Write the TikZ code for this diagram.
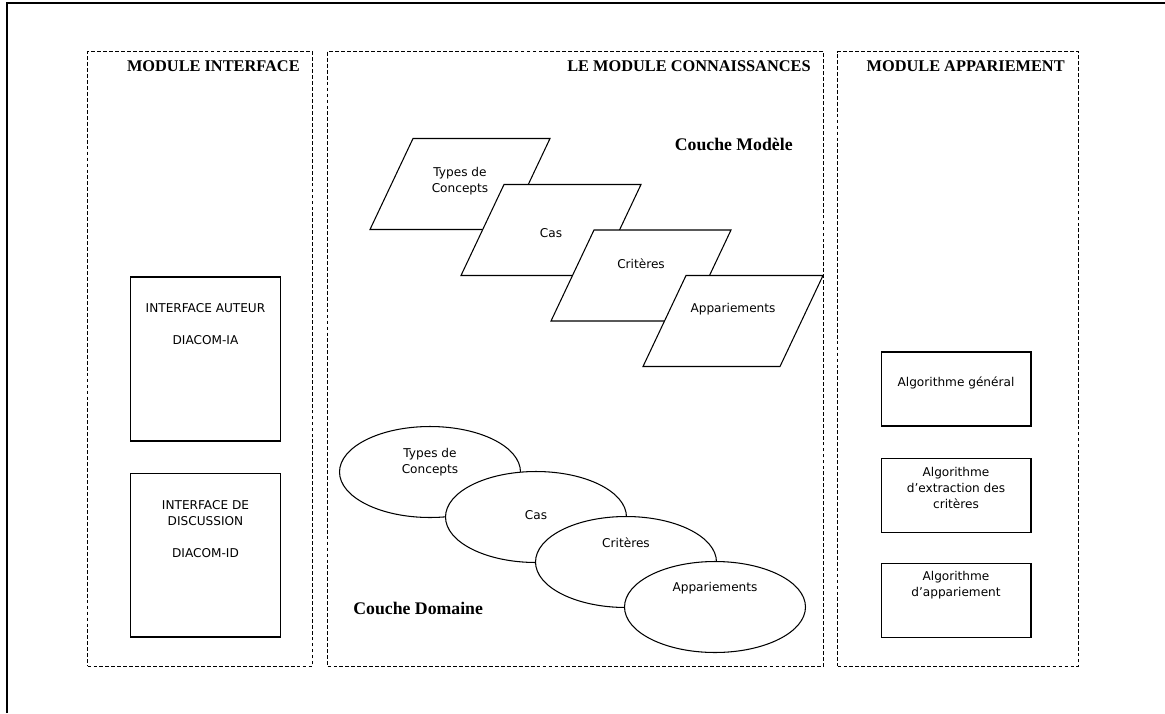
\documentclass[tikz,border=0pt]{standalone}
\usepackage{fontspec}
\setmainfont{DejaVu Sans}
\newfontfamily\titlefont{Liberation Serif}
\usepackage{tikz}
\usetikzlibrary{
  shapes,
  shapes.geometric,
  positioning,
  calc
}
\tikzset{
  zone/.style={
    draw, dash pattern=on 2.2pt off 1.2pt, line width=0.6pt,
    anchor=north west, inner sep=0pt, minimum height=12.3cm
  },
  modtitle/.style={font=\titlefont\bfseries\fontsize{9.3}{11}\selectfont, inner sep=0pt, anchor=base east},
  layertitle/.style={font=\titlefont\bfseries\fontsize{10.1}{12}\selectfont, inner sep=0pt},
  isbox/.style={draw, line width=0.6pt, minimum width=3cm, inner sep=0pt},
  layerpara/.style={draw, fill=white, line width=0.6pt},
  layerell/.style={
    draw, fill=white, line width=0.6pt, ellipse,
    minimum width=3.62cm, minimum height=1.82cm, inner sep=0pt
  },
  tag/.style={font=\fontsize{6.9}{9.1}\selectfont, align=center, inner sep=0pt}
}
\begin{document}
\begin{tikzpicture}[x=0.02cm, y=-0.02cm]
  \useasboundingbox (0,0) rectangle (1165,713);
  % outer frame, cut on the right and at the bottom
  \draw[line width=1.4pt] (7,713) -- (7,3) -- (1165,3);

  % the three modules
  \node[zone, minimum width=4.5cm] (modint) at (87,51) {};
  \node[zone, minimum width=9.92cm] (modcon) at (327,51) {};
  \node[zone, minimum width=4.82cm] (modapp) at (837,51) {};
  \node[modtitle] (tint) at ([xshift=-0.26cm, yshift=-0.415cm]modint.north east) {MODULE INTERFACE};
  \node[modtitle] (tcon) at ([xshift=-0.26cm, yshift=-0.415cm]modcon.north east) {LE MODULE CONNAISSANCES};
  \node[modtitle] (tapp) at ([xshift=-0.28cm, yshift=-0.415cm]modapp.north east) {MODULE APPARIEMENT};

  % module interface
  \node[isbox, minimum height=3.28cm] (iauteur) at (205.5,359) {};
  \node[isbox, minimum height=3.28cm, below=0.62cm of iauteur] (idisc) {};
  \node[tag] (tauteur) at ([yshift=0.69cm]iauteur.center) {INTERFACE AUTEUR\\[9.1pt]DIACOM-IA};
  \node[tag] (tdisc) at ([yshift=0.52cm]idisc.center) {INTERFACE DE\\DISCUSSION\\[9.1pt]DIACOM-ID};

  % couche modele
  \node[layertitle, anchor=base east] (cmod) at (793,150.5) {Couche Modèle};
  \foreach \i/\cx/\cy/\dy/\txt in {
    0/460/184/0.06/{Types de\\Concepts},
    1/551/230/-0.06/{Cas},
    2/641/275.5/0.24/{Critères},
    3/733/321/0.24/{Appariements}}{
    \coordinate (p\i) at (\cx,\cy);
    \draw[layerpara] (\cx-47,\cy-45.5) -- (\cx+90,\cy-45.5)
      -- (\cx+47,\cy+45.5) -- (\cx-90,\cy+45.5) -- cycle;
    \node[tag] (p\i-t) at ([yshift=\dy cm]p\i) {\txt};
  }

  % couche domaine
  \node[layertitle, anchor=base west] (cdom) at (353,614.5) {Couche Domaine};
  \foreach \i/\cx/\cy/\dy/\txt in {
    0/430/472/0.2/{Types de\\Concepts},
    1/536/517/0.04/{Cas},
    2/626/562/0.38/{Critères},
    3/715/607/0.38/{Appariements}}{
    \node[layerell] (e\i) at (\cx,\cy) {};
    \node[tag] (e\i-t) at ([yshift=\dy cm]e\i.center) {\txt};
  }

  % module appariement
  \node[isbox, minimum height=1.48cm] (agen) at (956,389) {};
  \node[isbox, minimum height=1.48cm, below=0.62cm of agen] (aext) {};
  \node[isbox, minimum height=1.48cm, below=0.6cm of aext] (aapp) {};
  \node[tag] (tgen) at ([yshift=0.12cm]agen.center) {Algorithme général};
  \node[tag] (text) at ([yshift=0.14cm]aext.center) {Algorithme\\d’extraction des\\critères};
  \node[tag] (tapp2) at ([yshift=0.3cm]aapp.center) {Algorithme\\d’appariement};
\end{tikzpicture}
\end{document}
